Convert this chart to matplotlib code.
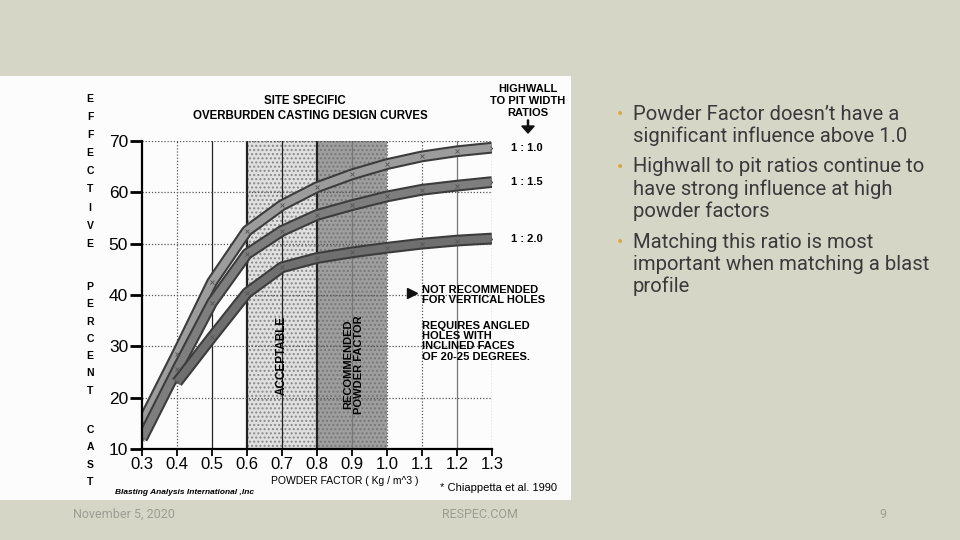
import numpy as np
import matplotlib
matplotlib.use("Agg")
import matplotlib.pyplot as plt
import matplotlib.patheffects as pe
from matplotlib.patches import Rectangle

# powder factor (kg/m^3) and effective percent cast per highwall ratio
pf = [0.3, 0.4, 0.5, 0.6, 0.7, 0.8, 0.9, 1.0, 1.1, 1.2, 1.3]
r10 = [15, 28.5, 42.5, 52.5, 57.5, 61, 63.5, 65.5, 67, 68, 68.7]
r15 = [12, 25.5, 38.5, 48, 52.5, 55.6, 57.5, 59.2, 60.5, 61.3, 62]
r20 = [np.nan, 23, 31.8, 40.4, 45.4, 47.2, 48.3, 49.2, 50, 50.6, 51]
ratio_labels = ["1 : 1.0", "1 : 1.5", "1 : 2.0"]

acceptable = (0.6, 0.8)
recommended = (0.8, 1.0)

xticks = [0.3, 0.4, 0.5, 0.6, 0.7, 0.8, 0.9, 1.0, 1.1, 1.2, 1.3]
yticks = [10, 20, 30, 40, 50, 60, 70]

bullets = [
    ["Powder Factor doesn\u2019t have a", "significant influence above 1.0"],
    ["Highwall to pit ratios continue to", "have strong influence at high", "powder factors"],
    ["Matching this ratio is most", "important when matching a blast", "profile"],
]

BG = "#d6d6c6"
W, H = 960, 540
fig = plt.figure(figsize=(9.6, 5.4), dpi=100, facecolor=BG)

def fx(px):
    return px / W

def fy(py):
    return 1 - py / H

# white scanned panel
fig.patches.append(Rectangle((0, fy(500)), fx(571), (500 - 76) / H,
                             transform=fig.transFigure, facecolor="#fcfcfc",
                             edgecolor="none", zorder=-10))

ax = fig.add_axes([fx(142), fy(449), 350 / W, 308 / H])
ax.set_facecolor("none")
ax.set_xlim(0.3, 1.3)
ax.set_ylim(10, 70)

# shaded zones
ax.add_patch(Rectangle((acceptable[0], 10), acceptable[1] - acceptable[0], 60,
                       facecolor="#e0e0e0", edgecolor="#8a8a8a", hatch="....",
                       lw=0, zorder=1))
ax.add_patch(Rectangle((recommended[0], 10), recommended[1] - recommended[0], 60,
                       facecolor="#9e9e9e", edgecolor="#777777", hatch="....",
                       lw=0, zorder=1))

# grid
solid_x = [0.5, 0.6, 0.7, 0.8, 0.9, 1.2]
for x in xticks[1:]:
    if x in solid_x:
        ax.axvline(x, color="#222222" if x <= 0.8 else "#777777",
                   lw=1.6 if x in (0.6, 0.8) else 0.9, zorder=2)
    else:
        ax.axvline(x, color="#555555", lw=0.9, ls=(0, (1, 1.5)), zorder=2)
for y in yticks[1:]:
    ax.axhline(y, color="#555555", lw=0.9, ls=(0, (1, 1.5)), zorder=2)

# curves as thick shaded bands
bands = [(r10, "#9c9c9c"), (r15, "#7e7e7e"), (r20, "#6f6f6f")]
for vals, col in bands:
    ax.plot(pf, vals, color=col, lw=5.5, solid_capstyle="butt", zorder=4,
            path_effects=[pe.Stroke(linewidth=8.5, foreground="#3c3c3c"), pe.Normal()])
    ax.plot(pf, vals, ls="none", marker="x", ms=3, mew=0.6, color="#555555", zorder=5)

for vals, lab in zip([r10, r15, r20], ratio_labels):
    ax.text(1.40, vals[-1], lab, ha="center", va="center", fontsize=8,
            fontweight="bold", family="Liberation Sans", clip_on=False)

for s in ["top", "right"]:
    ax.spines[s].set_visible(False)
for s in ["left", "bottom"]:
    ax.spines[s].set_linewidth(1.6)
    ax.spines[s].set_zorder(6)

ax.set_xticks(xticks)
ax.set_xticklabels([f"{v:.1f}" for v in xticks])
ax.set_yticks(yticks)
ax.tick_params(axis="x", direction="out", length=5, width=1.3, pad=0.5,
               labelsize=12)
ax.tick_params(axis="y", direction="out", length=9, width=2, pad=1,
               labelsize=12.5)
for lab in ax.get_xticklabels() + ax.get_yticklabels():
    lab.set_family("Liberation Sans")

# zone labels
ax.text(0.70, 28.3, "ACCEPTABLE", rotation=90, ha="center", va="center",
        fontsize=8.5, fontweight="bold", family="Liberation Sans", zorder=6)
ax.text(0.905, 26.5, "RECOMMENDED\nPOWDER FACTOR", rotation=90, ha="center",
        va="center", fontsize=8, fontweight="bold", family="Liberation Sans",
        linespacing=1.0, zorder=6)

# annotations
ax.plot([1.072], [40.4], marker=">", ms=7, color="#111111", clip_on=False, zorder=6)
ax.text(1.1, 40.0, "NOT RECOMMENDED\nFOR VERTICAL HOLES", ha="left", va="center",
        fontsize=8, fontweight="bold", family="Liberation Sans", linespacing=0.95,
        zorder=6)
ax.text(1.1, 31.0, "REQUIRES ANGLED\nHOLES WITH\nINCLINED FACES\nOF 20-25 DEGREES.",
        ha="left", va="center", fontsize=8, fontweight="bold",
        family="Liberation Sans", linespacing=1.05, zorder=6)

# titles inside the scan
fig.text(fx(305), fy(101), "SITE SPECIFIC", ha="center", va="center",
         fontsize=8.3, fontweight="bold", family="Liberation Sans")
fig.text(fx(310), fy(116), "OVERBURDEN CASTING DESIGN CURVES", ha="center",
         va="center", fontsize=8.3, fontweight="bold", family="Liberation Sans")
fig.text(fx(528), fy(101), "HIGHWALL\nTO PIT WIDTH\nRATIOS", ha="center",
         va="center", fontsize=8, fontweight="bold", family="Liberation Sans",
         linespacing=1.25)
fig.add_artist(matplotlib.patches.FancyArrow(fx(528), fy(120), 0, -(13 / H),
               width=0.0012, head_width=0.013, head_length=7 / H,
               length_includes_head=True, color="#111111",
               transform=fig.transFigure))

# vertical axis title, one letter per row
words = [("EFFECTIVE", 99, 18.1), ("PERCENT", 287, 17.3), ("CAST", 430, 17.3)]
for word, y0, step in words:
    for i, ch in enumerate(word):
        fig.text(fx(90), fy(y0 + i * step), ch, ha="center", va="center",
                 fontsize=7.5, fontweight="bold", family="Liberation Sans")

fig.text(fx(345), fy(481), "POWDER FACTOR ( Kg / m^3 )", ha="center",
         va="center", fontsize=7.5, family="Liberation Sans")
fig.text(fx(115), fy(492), "Blasting Analysis International ,Inc", ha="left",
         va="center", fontsize=6, fontweight="bold", style="italic",
         family="Liberation Sans")
fig.text(fx(440), fy(488), "* Chiappetta et al. 1990", ha="left", va="center",
         fontsize=8, family="Liberation Sans")

# slide bullets
line_y = [[114, 136], [167, 189, 211], [242, 264, 286]]
for lines, ys in zip(bullets, line_y):
    fig.text(fx(620), fy(ys[0]), "\u2022", ha="center", va="center",
             fontsize=10, color="#d9a845", family="DejaVu Sans")
    for ln, yy in zip(lines, ys):
        fig.text(fx(633), fy(yy), ln, ha="left", va="center", fontsize=14.6,
                 color="#3a3a3e", family="Roboto")

# footer
fig.text(fx(73), fy(514), "November 5, 2020", ha="left", va="center",
         fontsize=9, color="#9c9c94", family="Roboto")
fig.text(fx(480), fy(514), "RESPEC.COM", ha="center", va="center",
         fontsize=9, color="#9c9c94", family="Roboto")
fig.text(fx(883), fy(514), "9", ha="center", va="center",
         fontsize=9, color="#9c9c94", family="Roboto")

fig.savefig("out.png", dpi=100, facecolor=BG)
